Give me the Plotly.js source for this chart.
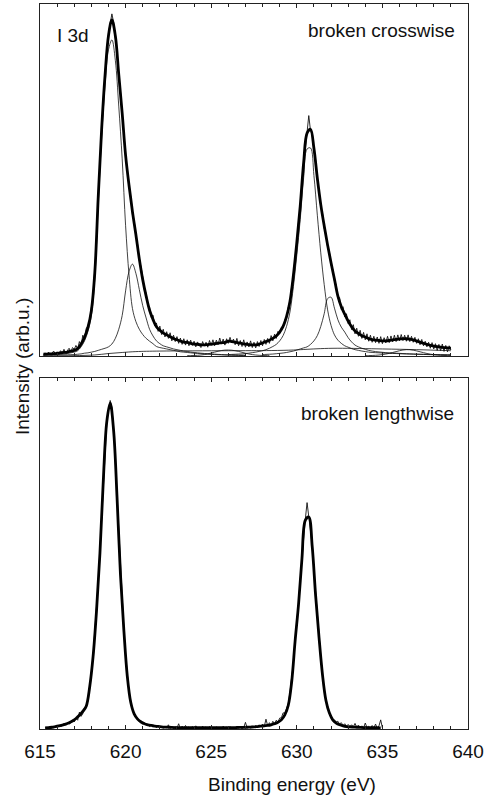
<!DOCTYPE html>
<html>
<head>
<meta charset="utf-8">
<script src="https://cdn.plot.ly/plotly-3.0.1.min.js"></script>
<style>html,body{margin:0;padding:0;background:#fff;}#chart{width:486px;height:801px;}</style>
</head>
<body>
<div id="chart"></div>
<script>
// ---------- data (binding energy in eV, intensity in arb. units) ----------
// Top panel: "broken crosswise" (sampling start / step in eV)
const topRawStart = 615.2, topRawStep = 0.1;
const topRaw = [
0.2,0.9,0.4,1.1,0.3,0.8,1.4,0.5,1.2,0.6,
1.5,0.8,1.9,0.9,1.6,2.2,1.1,2.4,1.9,3.0,
2.0,4.1,3.0,5.9,4.6,7.8,8.6,10.0,13.8,17.2,
24.5,33.0,45.8,54.6,65.2,72.0,80.6,85.4,91.8,94.5,
97.2,94.8,90.4,86.7,79.4,75.2,68.3,63.7,56.4,53.2,
48.0,45.3,40.2,38.6,34.0,31.8,27.0,25.4,22.5,18.6,
17.9,14.3,13.9,11.0,11.6,8.6,9.4,7.0,8.5,6.1,
7.6,5.4,6.9,5.0,6.6,4.3,5.9,4.1,5.5,3.6,
5.1,3.3,4.9,3.1,4.6,2.9,4.5,3.0,4.2,2.6,
4.0,3.1,2.4,4.1,2.8,3.9,2.5,4.4,3.0,4.6,
2.9,4.5,3.2,5.1,3.4,4.8,3.1,4.9,3.6,5.3,
3.7,4.8,3.2,5.0,2.9,4.4,2.7,4.6,2.5,4.0,
2.6,4.3,2.4,3.9,2.3,4.1,2.7,4.4,2.9,4.7,
3.3,5.0,3.6,5.8,4.3,6.2,5.0,7.0,6.3,8.2,
8.0,10.4,10.8,13.9,15.0,19.8,22.3,28.1,31.6,38.0,
42.0,49.4,54.3,60.2,63.0,68.3,64.0,62.8,58.4,55.6,
49.9,47.0,42.4,40.6,36.3,34.8,30.9,29.7,25.8,24.7,
21.2,20.3,16.4,16.6,13.2,14.0,11.1,12.0,9.2,10.3,
7.5,8.9,6.3,7.9,5.6,7.3,5.0,6.7,4.6,6.3,
4.2,5.9,3.9,5.6,3.8,5.4,3.6,5.5,3.5,5.2,
3.7,5.6,3.8,5.7,4.0,5.9,4.1,6.0,4.3,6.1,
4.4,5.9,4.2,6.0,4.1,5.6,3.9,5.3,3.6,4.9,
3.2,4.7,2.9,4.2,2.6,3.9,2.2,3.8,2.0,3.5,
1.6,3.3,1.5,3.4,1.3,3.0,1.2,2.9,1.7
];
const fitStep = 0.2;
const topEnvStart = 615.2;
const topEnvelope = [
0.5,0.55,0.6,0.65,0.75,0.87,1.0,1.13,1.36,1.6,
2.1,3.4,5.3,8.1,12.9,23.6,45,64.4,79.8,91,
95.5,91,80,69,57,48.5,41,34.5,27.6,21.7,
17.0,13.0,10.4,8.3,7.3,6.5,6.0,5.5,5.0,4.6,
4.25,3.95,3.85,3.6,3.4,3.3,3.2,3.15,3.25,3.35,
3.5,3.65,3.75,3.85,4.2,4.1,3.95,3.75,3.55,3.35,
3.2,3.15,3.15,3.4,3.7,4.1,4.5,5.0,5.7,6.8,
8.4,11.2,15.5,22.9,32.2,42.6,54.9,63.3,64.4,59,
50.5,43,37,31.5,26.5,21.8,17.0,14.0,11.9,9.9,
8.3,7.1,6.4,5.75,5.4,4.95,4.67,4.5,4.4,4.3,
4.3,4.4,4.55,4.7,4.85,4.9,4.9,4.8,4.57,4.27,
3.95,3.62,3.32,3.04,2.83,2.66,2.51,2.4,2.3,2.22
];
const comp1Start = 615.6;
const comp1 = [
0.3,0.35,0.4,0.5,0.6,0.7,0.9,1.1,1.5,2.6,
4.3,7.0,11.5,22,43,62,77,87,89.8,84,
71,56,37,23,13.5,9.8,7.6,6.1,5.0,4.2,
3.5,2.7,2.4,2.2,2.0,1.8,1.6,1.4,1.2,1.1,
1.0,0.9,0.8,0.72,0.65,0.58,0.52,0.46,0.41,0.36,
0.32,0.28,0.25,0.22,0.2,0.18,0.16,0.14
];
const comp2Start = 615.2;
const comp2 = [
0.25,0.26,0.27,0.28,0.29,0.3,0.32,0.34,0.37,0.4,
0.5,0.6,0.8,0.9,1.1,1.3,1.6,1.9,2.2,2.6,
3.4,5.0,7.6,11.5,18.5,24,26.1,23.5,18.9,14.3,
10.8,7.6,5.7,4.3,3.5,2.9,2.6,2.3,2.0,1.8,
1.6,1.4,1.3,1.1,1.0,0.9,0.8,0.72,0.65,0.58,
0.52,0.46,0.41,0.37,0.33,0.3,0.27,0.24,0.22,0.2
];
const comp3Start = 626.0;
const comp3 = [
0.4,0.45,0.5,0.55,0.6,0.7,0.8,0.95,1.1,1.3,
1.5,1.8,2.2,2.7,3.3,4.3,5.8,8.4,12.5,19.7,
28.7,38.8,50.7,58.8,59.1,51.3,40,29.3,20.3,13.1,
8.7,6.0,4.5,3.6,2.9,2.5,2.1,1.8,1.6,1.4,
1.25,1.1,1.0,0.95,0.9,0.85,0.8,0.75,0.72,0.7,
0.65,0.6,0.58,0.56,0.54,0.52,0.5,0.48,0.46,0.44,
0.42,0.4,0.38,0.37,0.36,0.35
];
const comp4Start = 628.0;
const comp4 = [
0.4,0.45,0.5,0.55,0.65,0.75,0.85,1.0,1.2,1.4,
1.7,2.0,2.3,2.6,3.3,4.3,5.8,8.4,12.0,16.3,
16.7,13.6,10.3,8.2,6.8,5.2,4.0,3.1,2.6,2.2,
1.9,1.6,1.4,1.25,1.15,1.05,0.95,0.9,0.85,0.8,
0.75,0.7,0.65,0.6,0.55,0.5,0.47,0.44,0.41,0.38,
0.35,0.33,0.31,0.3,0.28,0.27
];
const sat1Start = 623.6;
const sat1 = [
0.1,0.12,0.15,0.2,0.28,0.4,0.6,0.85,1.1,1.35,
1.55,1.68,1.7,1.65,1.5,1.3,1.05,0.8,0.58,0.4,
0.28,0.2,0.15,0.12,0.1
];
const sat2Start = 634.0;
const sat2 = [
0.1,0.12,0.15,0.2,0.28,0.4,0.55,0.75,1.0,1.25,
1.5,1.7,1.8,1.78,1.65,1.45,1.2,0.95,0.72,0.52,
0.38,0.28,0.2,0.15,0.12,0.1
];
const bgX = [615.2,617,618.2,619,619.8,620.6,622,626,628.5,629.8,630.6,631.4,632.4,635,637,639];
const bgY = [0,0.1,0.3,0.7,1.0,1.25,1.4,1.5,1.55,1.7,1.9,2.1,2.2,2.0,1.8,1.5];

// Bottom panel: "broken lengthwise"
const botRawStart = 615.3, botRawStep = 0.1;
const botRaw = [
0.2,0.5,0.3,0.6,0.4,0.3,0.8,0.5,1.0,0.7,
0.9,1.6,1.1,1.8,1.4,1.7,2.6,2.0,3.1,2.5,
4.8,3.6,4.4,6.1,6.0,8.3,12.4,15.6,20.9,27.2,
33.1,41.8,50.6,60.2,70.5,79.6,87.0,91.0,93.6,91.5,
85.4,76.2,66.6,55.0,44.3,35.4,28.4,21.0,15.5,10.6,
7.9,5.6,4.6,3.2,3.1,2.1,2.4,1.4,1.8,1.0,
1.4,0.7,1.1,0.5,1.0,0.4,0.9,0.3,0.8,0.2,
0.7,0.3,1.2,0.2,0.6,0.1,0.7,0.2,1.5,0.1,
0.8,0.3,1.0,0.2,0.6,0.1,0.7,0.2,0.9,0.3,
0.5,0.0,0.8,0.2,0.6,0.1,0.7,0.3,0.5,0.0,
0.6,0.2,0.4,0.1,0.8,0.2,0.5,0.1,0.7,0.2,
0.4,0.0,0.6,0.2,0.5,0.1,0.4,1.9,0.3,0.7,
0.2,0.8,0.4,1.0,0.5,1.2,0.6,1.4,0.7,2.8,
0.9,1.8,1.1,2.2,1.4,2.5,2.0,3.1,3.2,4.6,
4.5,5.8,7.2,10.5,13.9,18.8,25.4,29.8,35.9,42.5,
48.9,54.0,59.9,64.5,60.0,56.3,52.4,45.0,38.4,31.6,
25.6,20.9,15.2,11.9,8.0,6.6,4.4,3.9,2.4,2.6,
2.0,2.2,1.4,1.8,1.0,1.5,0.8,1.3,0.7,1.2,
0.6,1.6,0.5,1.1,0.4,0.9,0.3,1.7,0.4,0.8,
0.2,1.0,0.3,1.4,0.2,0.9,2.6,0.3
];
const botEnvStart = 615.3;
const botEnvelope = [
0.3,0.4,0.5,0.7,0.9,1.1,1.4,1.8,2.3,3.0,
3.9,5.0,6.5,11.9,20.6,33.6,50,71,87.5,92.8,
85,66,44,28,15,7.6,4.3,2.8,2.0,1.5,
1.2,1.0,0.85,0.72,0.62,0.55,0.5,0.45,0.42,0.4,
0.38,0.37,0.36,0.35,0.35,0.35,0.35,0.35,0.35,0.35,
0.35,0.36,0.37,0.38,0.4,0.41,0.43,0.45,0.47,0.5,
0.55,0.6,0.7,0.8,0.9,1.0,1.2,1.5,1.9,2.6,
4.0,6.7,13.4,25,35.4,48.5,59.5,60.4,52,38,
26,15.5,8.2,4.6,2.6,1.7,1.2,0.9,0.7,0.6,
0.55,0.5,0.45,0.42,0.4,0.38,0.36,0.35,0.34
];

const xTicks = [615, 620, 625, 630, 635, 640];
const xTickLabels = ['615', '620', '625', '630', '635', '640'];
const panelLabels = ['I 3d', 'broken crosswise', 'broken lengthwise'];
const xTitle = 'Binding energy (eV)';
const yTitle = 'Intensity (arb.u.)';

// ---------- traces ----------
const INK = '#111';
const thin = {color: INK, width: 0.8};
const thinRaw = {color: '#111', width: 0.9};
const thick = {color: '#000', width: 2.8};
function ser(y, x0, dx, line, xa, ya, shape) {
  return {type: 'scatter', mode: 'lines', y: y, x0: x0, dx: dx, line: Object.assign({shape: shape || 'linear'}, line),
          xaxis: xa, yaxis: ya, hoverinfo: 'skip', showlegend: false};
}
const traces = [
  ser(topRaw, topRawStart, topRawStep, thinRaw, 'x2', 'y2'),
  ser(comp1, comp1Start, fitStep, thin, 'x2', 'y2', 'spline'),
  ser(comp2, comp2Start, fitStep, thin, 'x2', 'y2', 'spline'),
  ser(comp3, comp3Start, fitStep, thin, 'x2', 'y2', 'spline'),
  ser(comp4, comp4Start, fitStep, thin, 'x2', 'y2', 'spline'),
  ser(sat1, sat1Start, fitStep, thin, 'x2', 'y2', 'spline'),
  ser(sat2, sat2Start, fitStep, thin, 'x2', 'y2', 'spline'),
  {type: 'scatter', mode: 'lines', x: bgX, y: bgY, line: Object.assign({shape: 'spline'}, thin), xaxis: 'x2', yaxis: 'y2', hoverinfo: 'skip', showlegend: false},
  ser(topEnvelope, topEnvStart, fitStep, thick, 'x2', 'y2', 'spline'),
  ser(botRaw, botRawStart, botRawStep, thinRaw, 'x', 'y'),
  ser(botEnvelope, botEnvStart, fitStep, thick, 'x', 'y', 'spline')
];

// ---------- layout ----------
const W = 486, H = 801;
const L = 40, R = 18, T = 4, B = 72;
const plotH = H - T - B;
const botDomain = [0, (729 - 378) / plotH];
const topDomain = [(729 - 356) / plotH, 1];
const FONT = 'Liberation Sans, Arial, Helvetica, sans-serif';
const FS = 19;
const px = v => (v - L) / (W - L - R);
const py = v => (H - B - v) / plotH;

const xBase = {
  range: [615, 640], showgrid: false, zeroline: false,
  showline: true, linecolor: '#222', linewidth: 1, mirror: 'ticks',
  ticks: 'inside', ticklen: 4, tickcolor: '#222', tickwidth: 1,
  tickvals: xTicks, ticktext: xTickLabels, ticklabelstandoff: 5,
  minor: {dtick: 1, tick0: 615, ticks: 'inside', ticklen: 3, tickcolor: '#222', tickwidth: 1, showgrid: false},
  tickfont: {family: FONT, size: FS, color: INK}
};
const yBase = {
  range: [0, 100], showgrid: false, zeroline: false, showline: true, linecolor: '#222', linewidth: 1,
  mirror: true, ticks: '', showticklabels: false, fixedrange: true
};
const layout = {
  width: W, height: H, margin: {l: L, r: R, t: T, b: B},
  paper_bgcolor: '#fff', plot_bgcolor: '#fff',
  font: {family: FONT, color: INK, size: FS},
  xaxis: Object.assign({}, xBase, {anchor: 'y', showticklabels: true}),
  yaxis: Object.assign({}, yBase, {domain: botDomain, anchor: 'x'}),
  xaxis2: Object.assign({}, xBase, {anchor: 'y2', matches: 'x', showticklabels: false}),
  yaxis2: Object.assign({}, yBase, {domain: topDomain, anchor: 'x2'}),
  annotations: [
    {text: panelLabels[0], xref: 'paper', yref: 'paper', x: px(55), y: py(35), xanchor: 'left', yanchor: 'middle', showarrow: false, font: {size: FS}},
    {text: panelLabels[1], xref: 'paper', yref: 'paper', x: px(457), y: py(30), xanchor: 'right', yanchor: 'middle', showarrow: false, font: {size: FS}},
    {text: panelLabels[2], xref: 'paper', yref: 'paper', x: px(456), y: py(413), xanchor: 'right', yanchor: 'middle', showarrow: false, font: {size: FS}},
    {text: xTitle, xref: 'paper', yref: 'paper', x: px(292), y: py(784), xanchor: 'center', yanchor: 'middle', showarrow: false, font: {size: FS}},
    {text: yTitle, xref: 'paper', yref: 'paper', x: px(22), y: py(367), xanchor: 'center', yanchor: 'middle', textangle: -90, showarrow: false, font: {size: FS}}
  ]
};
Plotly.newPlot('chart', traces, layout, {staticPlot: true, displayModeBar: false});
</script>
</body>
</html>
